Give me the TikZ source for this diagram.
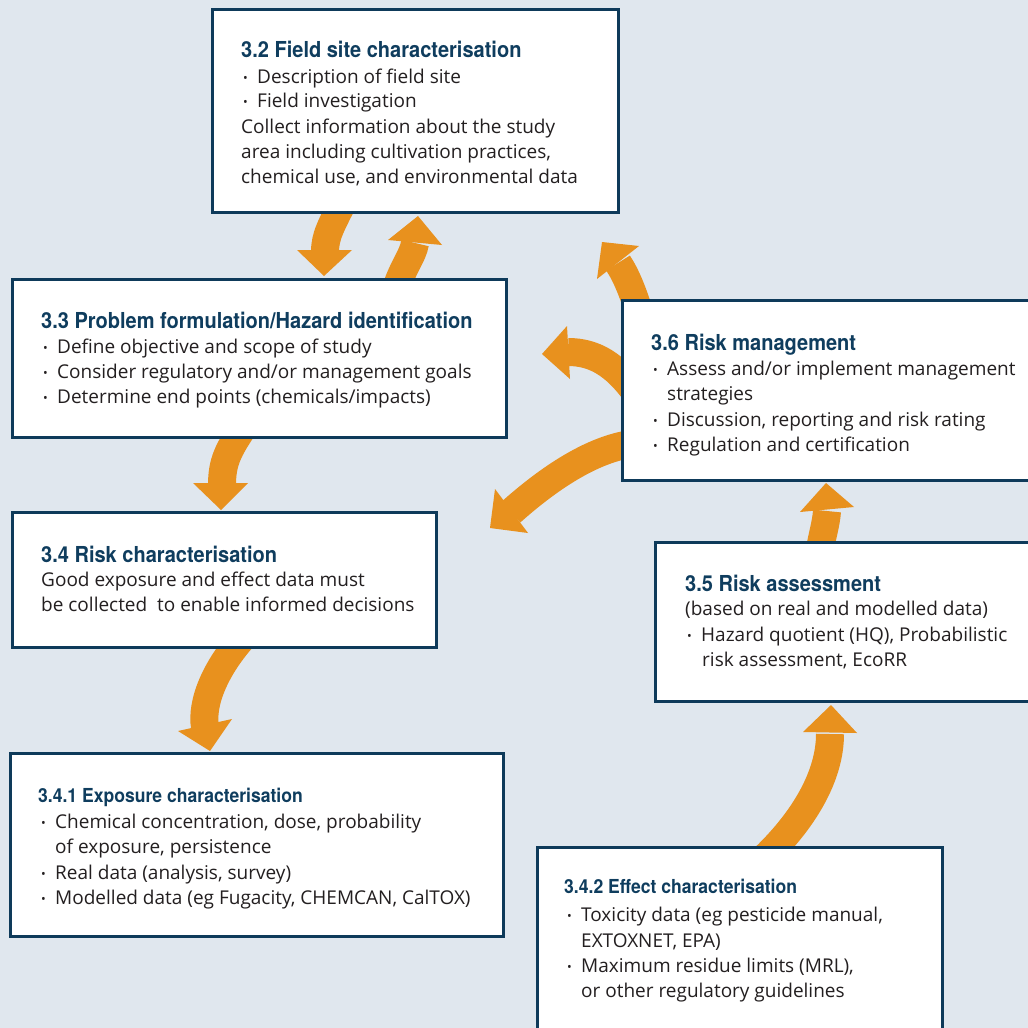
\documentclass[tikz,border=0pt]{standalone}
\usepackage{fontspec}
\setmainfont{Open Sans}
\newfontfamily\hfont[FakeStretch=0.91]{TeX Gyre Heros}
\definecolor{bg}{RGB}{224,231,238}
\definecolor{navy}{RGB}{14,58,90}
\definecolor{hnavy}{RGB}{15,61,94}
\definecolor{orng}{RGB}{232,145,30}
\definecolor{ink}{RGB}{35,31,32}
\newcommand\boxat[5]{\node[box, minimum width={#4-#2-3}, minimum height={#5-#3-3}] (#1) at ({(#2+#4)/2},{(#3+#5)/2}) {};}
\newcommand\bitem[4]{\node[btxt] (#1b) at (#2,#3) {\raisebox{0.5pt}{\fontsize{12.5}{12.5}\selectfont •}};\node[btxt] (#1) at ({#2+14},#3) {#4};}
\begin{document}
\begin{tikzpicture}[x=1pt,y=-1pt,
  box/.style={draw=navy, line width=3pt, fill=white, inner sep=0pt, outer sep=0pt},
  shaft/.style={draw=orng, line width=28pt},
  head/.style={fill=orng},
  htxt/.style={anchor=base west, inner sep=0pt, font=\hfont\bfseries\fontsize{22}{26}\selectfont, text=hnavy},
  shtxt/.style={anchor=base west, inner sep=0pt, font=\hfont\bfseries\fontsize{19.3}{23}\selectfont, text=hnavy},
  btxt/.style={anchor=base west, inner sep=0pt, font=\fontsize{19}{25}\selectfont, text=ink}]
\fill[bg] (0,0) rectangle (1028,1028);
\useasboundingbox (0,0) rectangle (1028,1028);
% arrows
\coordinate (a1s) at (344,200); \coordinate (a1e) at (325,252);
\draw[shaft] (a1s) .. controls (331,226) and (325,236) .. (a1e);
\fill[head] (297,250) -- (324,276) -- (352,250) -- cycle;
\coordinate (a2s) at (395,292); \coordinate (a2e) at (415,243);
\draw[shaft] (a2s) .. controls (402,268) and (413,256) .. (a2e);
\fill[head] (388,240) -- (418,216) -- (442,245) -- cycle;
\coordinate (a3s) at (245,425); \coordinate (a3e) at (222,485);
\draw[shaft] (a3s) .. controls (228,450) and (222,462) .. (a3e);
\fill[head] (193,483) -- (221,510) -- (248,483) -- cycle;
\coordinate (a4s) at (245,635); \coordinate (a4e) at (205,727);
\draw[shaft] (a4s) .. controls (215,668) and (201,703) .. (a4e);
\fill[head] (178,731) -- (210,751) -- (232,719) -- cycle;
\coordinate (a5s) at (760,862); \coordinate (a5e) at (830,734);
\draw[shaft] (a5s) .. controls (805,820) and (830,775) .. (a5e);
\fill[head] (803,732) -- (831,705) -- (857,733) -- cycle;
\coordinate (a6s) at (818,560); \coordinate (a6e) at (827,511);
\draw[shaft] (a6s) .. controls (822,535) and (826,525) .. (a6e);
\fill[head] (800,512) -- (826,483) -- (854,507) -- cycle;
\coordinate (a7s) at (640,315); \coordinate (a7e) at (618,263);
\draw[shaft] (a7s) .. controls (633,292) and (626,275) .. (a7e);
\fill[head] (597,279) -- (602,242) -- (639,246) -- cycle;
\coordinate (a8s) at (635,392); \coordinate (a8e) at (568,352);
\draw[shaft] (a8s) .. controls (615,365) and (595,352) .. (a8e);
\fill[head] (567,326) -- (542,354) -- (570,379) -- cycle;
\coordinate (a9s) at (640,443); \coordinate (a9e) at (511,512);
\draw[shaft] (a9s) .. controls (590,446) and (538,488) .. (a9e);
\fill[head] (495,489) -- (490,528) -- (528,533) -- cycle;
% boxes
\boxat{b32}{211}{8}{620}{214}
\boxat{b33}{11}{278}{508}{439}
\boxat{b36}{621}{299}{1040}{482}
\boxat{b34}{11}{511}{438}{649}
\boxat{b35}{654}{541}{1040}{703}
\boxat{b341}{9}{752}{505}{938}
\boxat{b342}{536}{846}{944}{1040}
% texts 3.2
\node[htxt] (h32) at (241,57) {3.2 Field site characterisation};
\bitem{l321}{243}{83}{Description of field site}
\bitem{l322}{243}{107}{Field investigation}
\node[btxt] (l323) at (241,133) {Collect information about the study};
\node[btxt] (l324) at (241,158) {area including cultivation practices,};
\node[btxt] (l325) at (241,183) {chemical use, and environmental data};
% 3.3
\node[htxt] (h33) at (41,328) {3.3 Problem formulation/Hazard identification};
\bitem{l331}{43}{353}{Define objective and scope of study}
\bitem{l332}{43}{378}{Consider regulatory and/or management goals}
\bitem{l333}{43}{403}{Determine end points (chemicals/impacts)}
% 3.6
\node[htxt] (h36) at (651,350) {3.6 Risk management};
\bitem{l361}{653}{375}{Assess and/or implement management}
\node[btxt] (l362) at (667,400) {strategies};
\bitem{l363}{653}{426}{Discussion, reporting and risk rating}
\bitem{l364}{653}{451}{Regulation and certification}
% 3.4
\node[htxt] (h34) at (41,562) {3.4 Risk characterisation};
\node[btxt] (l341) at (41,586) {Good exposure and effect data must};
\node[btxt] (l342) at (41,611) {be collected\ \ to enable informed decisions};
% 3.5
\node[htxt] (h35) at (685,591) {3.5 Risk assessment};
\node[btxt] (l351) at (685,615) {(based on real and modelled data)};
\bitem{l352}{687}{641}{Hazard quotient (HQ), Probabilistic}
\node[btxt] (l353) at (702,666) {risk assessment, EcoRR};
% 3.4.1
\node[shtxt] (h341) at (38,802) {3.4.1 Exposure characterisation};
\bitem{l3411}{41}{828}{Chemical concentration, dose, probability}
\node[btxt] (l3412) at (55,853) {of exposure, persistence};
\bitem{l3413}{41}{879}{Real data (analysis, survey)}
\bitem{l3414}{41}{904}{Modelled data (eg Fugacity, CHEMCAN, CalTOX)}
% 3.4.2
\node[shtxt] (h342) at (564,893) {3.4.2 Effect characterisation};
\bitem{l3421}{567}{921}{Toxicity data (eg pesticide manual,}
\node[btxt] (l3422) at (581,947) {EXTOXNET, EPA)};
\bitem{l3423}{567}{972}{Maximum residue limits (MRL),}
\node[btxt] (l3424) at (581,997) {or other regulatory guidelines};
\end{tikzpicture}
\end{document}
